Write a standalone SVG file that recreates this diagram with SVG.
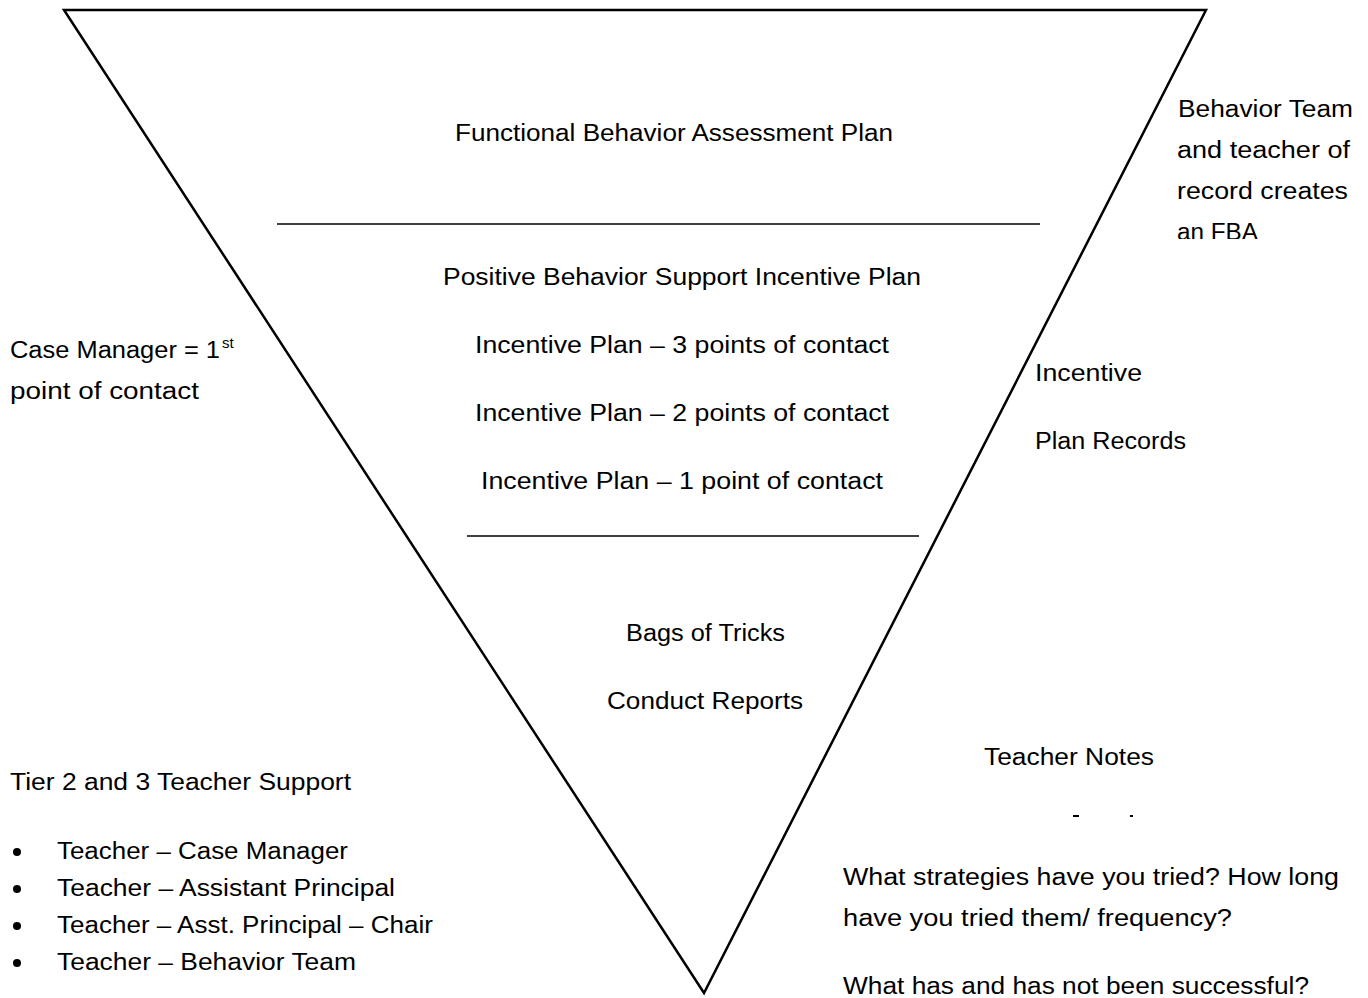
<svg xmlns="http://www.w3.org/2000/svg" width="1368" height="998" viewBox="0 0 1368 998">
<defs>
<style>
text{font-family:"Liberation Sans",Arial,sans-serif;font-size:23px;fill:#000;}
.ln{stroke:#000;stroke-width:2.5;fill:none;stroke-linejoin:miter;}
.thin{stroke:#000;stroke-width:1.5;fill:none;}
.dash{stroke:#000;stroke-width:2;fill:none;}
</style>
<clipPath id="fbaClip"><rect x="1170" y="0" width="198" height="239"/></clipPath>
</defs>
<rect width="1368" height="998" fill="#fff"/>
<g id="pyramid">
<polygon class="ln" points="64,10 1206,10 704,993"/>
</g>
<g id="connectors">
<line class="thin" x1="277" y1="224" x2="1040" y2="224"/>
<line class="thin" x1="467" y1="536" x2="919" y2="536"/>
</g>
<g id="fba-plan">
<text x="455" y="141" textLength="438" lengthAdjust="spacingAndGlyphs">Functional Behavior Assessment Plan</text>
</g>
<g id="incentive-plan">
<text x="443" y="285" textLength="478" lengthAdjust="spacingAndGlyphs">Positive Behavior Support Incentive Plan</text>
<text x="475" y="353" textLength="414" lengthAdjust="spacingAndGlyphs">Incentive Plan – 3 points of contact</text>
<text x="475" y="421" textLength="414" lengthAdjust="spacingAndGlyphs">Incentive Plan – 2 points of contact</text>
<text x="481" y="489" textLength="402" lengthAdjust="spacingAndGlyphs">Incentive Plan – 1 point of contact</text>
</g>
<g id="tricks">
<text x="626" y="641" textLength="159" lengthAdjust="spacingAndGlyphs">Bags of Tricks</text>
<text x="607" y="709" textLength="196" lengthAdjust="spacingAndGlyphs">Conduct Reports</text>
</g>
<g id="behavior-team-note" clip-path="url(#fbaClip)">
<text x="1178" y="117" textLength="175" lengthAdjust="spacingAndGlyphs">Behavior Team</text>
<text x="1177" y="158" textLength="173" lengthAdjust="spacingAndGlyphs">and teacher of</text>
<text x="1177" y="199" textLength="171" lengthAdjust="spacingAndGlyphs">record creates</text>
<text x="1177" y="240" textLength="81" lengthAdjust="spacingAndGlyphs">an FBA</text>
</g>
<g id="case-manager-note">
<text x="10" y="358"><tspan textLength="210" lengthAdjust="spacingAndGlyphs">Case Manager = 1</tspan><tspan dx="2" dy="-10" font-size="15">st</tspan></text>
<text x="10" y="399" textLength="189" lengthAdjust="spacingAndGlyphs">point of contact</text>
</g>
<g id="incentive-records-note">
<text x="1035" y="381" textLength="107" lengthAdjust="spacingAndGlyphs">Incentive</text>
<text x="1035" y="449" textLength="151" lengthAdjust="spacingAndGlyphs">Plan Records</text>
</g>
<g id="teacher-notes">
<text x="984" y="765" textLength="170" lengthAdjust="spacingAndGlyphs">Teacher Notes</text>
<line class="dash" x1="1073" y1="816" x2="1079" y2="816"/>
<line class="dash" x1="1130" y1="816" x2="1133" y2="816"/>
</g>
<g id="tier-support">
<text x="10" y="790" textLength="341" lengthAdjust="spacingAndGlyphs">Tier 2 and 3 Teacher Support</text>
<circle cx="17" cy="852" r="4"/>
<circle cx="17" cy="889" r="4"/>
<circle cx="17" cy="926" r="4"/>
<circle cx="17" cy="963" r="4"/>
<text x="57" y="859" textLength="291" lengthAdjust="spacingAndGlyphs">Teacher – Case Manager</text>
<text x="57" y="896" textLength="338" lengthAdjust="spacingAndGlyphs">Teacher – Assistant Principal</text>
<text x="57" y="933" textLength="376" lengthAdjust="spacingAndGlyphs">Teacher – Asst. Principal – Chair</text>
<text x="57" y="970" textLength="299" lengthAdjust="spacingAndGlyphs">Teacher – Behavior Team</text>
</g>
<g id="questions">
<text x="843" y="885" textLength="496" lengthAdjust="spacingAndGlyphs">What strategies have you tried? How long</text>
<text x="843" y="926" textLength="389" lengthAdjust="spacingAndGlyphs">have you tried them/ frequency?</text>
<text x="843" y="994" textLength="466" lengthAdjust="spacingAndGlyphs">What has and has not been successful?</text>
</g>
</svg>
